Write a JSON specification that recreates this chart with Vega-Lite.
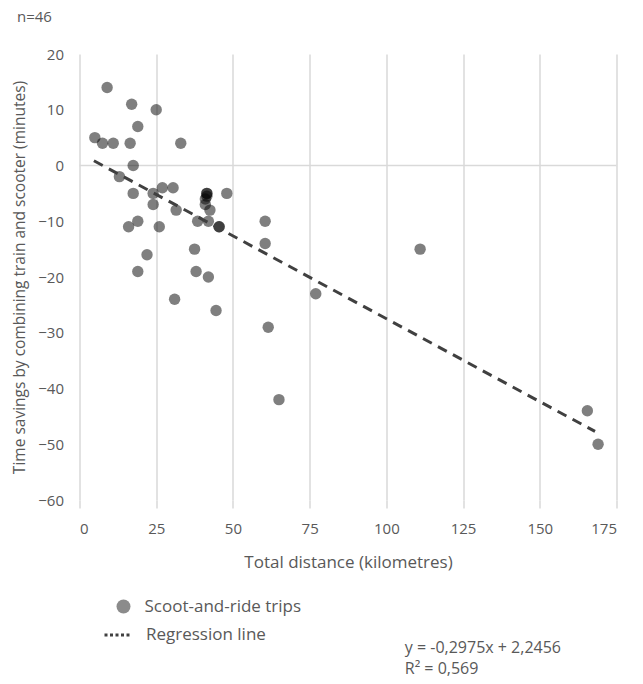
{
  "$schema": "https://vega.github.io/schema/vega-lite/v6.json",
  "width": 537,
  "height": 446,
  "autosize": {"type": "none"},
  "padding": {"left": 79.5, "top": 54, "right": 26.5, "bottom": 184},
  "background": "white",
  "config": {
    "view": {"stroke": null},
    "font": "Open Sans",
    "axis": {"labelFont": "Open Sans", "titleFont": "Open Sans", "labelColor": "#595959", "titleColor": "#595959", "labelFontSize": 15, "titleFontSize": 17, "titleFontWeight": "normal"},
    "legend": {"labelFont": "Open Sans", "labelFontSize": 17, "labelColor": "#595959", "padding": 0, "title": null}
  },
  "title": {"text": "n=46", "anchor": "start", "frame": "group", "dx": -62.5, "offset": 22, "fontSize": 15, "fontWeight": "normal", "color": "#595959", "font": "Open Sans"},
  "datasets": {
    "trips": [
      {"distance": 9, "savings": 14, "series": "Scoot-and-ride trips"},
      {"distance": 17, "savings": 11, "series": "Scoot-and-ride trips"},
      {"distance": 25, "savings": 10, "series": "Scoot-and-ride trips"},
      {"distance": 19, "savings": 7, "series": "Scoot-and-ride trips"},
      {"distance": 5, "savings": 5, "series": "Scoot-and-ride trips"},
      {"distance": 7.5, "savings": 4, "series": "Scoot-and-ride trips"},
      {"distance": 11, "savings": 4, "series": "Scoot-and-ride trips"},
      {"distance": 16.5, "savings": 4, "series": "Scoot-and-ride trips"},
      {"distance": 33, "savings": 4, "series": "Scoot-and-ride trips"},
      {"distance": 17.5, "savings": 0, "series": "Scoot-and-ride trips"},
      {"distance": 13, "savings": -2, "series": "Scoot-and-ride trips"},
      {"distance": 17.5, "savings": -5, "series": "Scoot-and-ride trips"},
      {"distance": 24, "savings": -5, "series": "Scoot-and-ride trips"},
      {"distance": 27, "savings": -4, "series": "Scoot-and-ride trips"},
      {"distance": 30.5, "savings": -4, "series": "Scoot-and-ride trips"},
      {"distance": 41.5, "savings": -5, "series": "Scoot-and-ride trips"},
      {"distance": 41.5, "savings": -5, "series": "Scoot-and-ride trips"},
      {"distance": 41.5, "savings": -5.5, "series": "Scoot-and-ride trips"},
      {"distance": 41, "savings": -6, "series": "Scoot-and-ride trips"},
      {"distance": 41, "savings": -7, "series": "Scoot-and-ride trips"},
      {"distance": 42.5, "savings": -8, "series": "Scoot-and-ride trips"},
      {"distance": 48, "savings": -5, "series": "Scoot-and-ride trips"},
      {"distance": 24, "savings": -7, "series": "Scoot-and-ride trips"},
      {"distance": 31.5, "savings": -8, "series": "Scoot-and-ride trips"},
      {"distance": 19, "savings": -10, "series": "Scoot-and-ride trips"},
      {"distance": 16, "savings": -11, "series": "Scoot-and-ride trips"},
      {"distance": 26, "savings": -11, "series": "Scoot-and-ride trips"},
      {"distance": 38.5, "savings": -10, "series": "Scoot-and-ride trips"},
      {"distance": 42, "savings": -10, "series": "Scoot-and-ride trips"},
      {"distance": 45.5, "savings": -11, "series": "Scoot-and-ride trips"},
      {"distance": 45.5, "savings": -11, "series": "Scoot-and-ride trips"},
      {"distance": 22, "savings": -16, "series": "Scoot-and-ride trips"},
      {"distance": 19, "savings": -19, "series": "Scoot-and-ride trips"},
      {"distance": 37.5, "savings": -15, "series": "Scoot-and-ride trips"},
      {"distance": 38, "savings": -19, "series": "Scoot-and-ride trips"},
      {"distance": 42, "savings": -20, "series": "Scoot-and-ride trips"},
      {"distance": 31, "savings": -24, "series": "Scoot-and-ride trips"},
      {"distance": 44.5, "savings": -26, "series": "Scoot-and-ride trips"},
      {"distance": 60.5, "savings": -10, "series": "Scoot-and-ride trips"},
      {"distance": 60.5, "savings": -14, "series": "Scoot-and-ride trips"},
      {"distance": 111, "savings": -15, "series": "Scoot-and-ride trips"},
      {"distance": 77, "savings": -23, "series": "Scoot-and-ride trips"},
      {"distance": 61.5, "savings": -29, "series": "Scoot-and-ride trips"},
      {"distance": 65, "savings": -42, "series": "Scoot-and-ride trips"},
      {"distance": 165.5, "savings": -44, "series": "Scoot-and-ride trips"},
      {"distance": 169, "savings": -50, "series": "Scoot-and-ride trips"}
    ],
    "fit": [
      {"distance": 4.7, "savings": 0.85, "series": "Regression line"},
      {"distance": 168, "savings": -47.7, "series": "Regression line"}
    ],
    "zero": [{"savings": 0}],
    "stats": [
      {"distance": 106, "savings": -86.6, "label": "y = -0,2975x + 2,2456"},
      {"distance": 106, "savings": -90.3, "label": "R² = 0,569"}
    ]
  },
  "layer": [
    {
      "data": {"name": "zero"},
      "mark": {"type": "rule", "color": "#d9d9d9", "strokeWidth": 1.5},
      "encoding": {
        "y": {"field": "savings", "type": "quantitative"}
      }
    },
    {
      "data": {"name": "trips"},
      "mark": {"type": "point", "filled": true, "size": 130, "color": "black", "opacity": 0.5},
      "encoding": {
        "x": {
          "field": "distance", "type": "quantitative",
          "scale": {"domain": [0, 175], "nice": false, "zero": false},
          "axis": {
            "title": "Total distance (kilometres)",
            "values": [0, 25, 50, 75, 100, 125, 150, 175],
            "grid": true, "gridColor": "#d9d9d9", "gridWidth": 1.5,
            "ticks": true, "tickColor": "#d9d9d9", "tickSize": 8, "tickWidth": 1.5,
            "domain": false, "labelPadding": 13, "titlePadding": 18
          }
        },
        "y": {
          "field": "savings", "type": "quantitative",
          "scale": {"domain": [-60, 20], "nice": false, "zero": false},
          "axis": {
            "title": "Time savings by combining train and scooter (minutes)",
            "titleFontSize": 15.5,
            "values": [-60, -50, -40, -30, -20, -10, 0, 10, 20],
            "grid": false, "ticks": false, "domain": false,
            "labelPadding": 16, "titlePadding": 10
          }
        },
        "shape": {
          "field": "series", "type": "nominal",
          "scale": {"domain": ["Scoot-and-ride trips"], "range": ["circle"]},
          "legend": {
            "orient": "none", "legendX": 35.5, "legendY": 544,
            "symbolSize": 195, "labelOffset": 12.5, "symbolOpacity": 0.45
          }
        }
      }
    },
    {
      "data": {"name": "fit"},
      "mark": {"type": "line", "strokeWidth": 3, "strokeDash": [10, 7]},
      "encoding": {
        "x": {"field": "distance", "type": "quantitative"},
        "y": {"field": "savings", "type": "quantitative"},
        "color": {
          "field": "series", "type": "nominal",
          "scale": {"domain": ["Regression line"], "range": ["#404040"]},
          "legend": {
            "orient": "none", "legendX": 23.5, "legendY": 566,
            "symbolType": "stroke", "symbolSize": 729, "symbolDash": [3, 2.5], "symbolStrokeWidth": 3,
            "symbolStrokeColor": "#262626", "labelOffset": 13
          }
        }
      }
    },
    {
      "data": {"name": "stats"},
      "mark": {"type": "text", "align": "left", "baseline": "middle", "clip": false, "fontSize": 16, "color": "#595959", "font": "Open Sans"},
      "encoding": {
        "x": {"field": "distance", "type": "quantitative"},
        "y": {"field": "savings", "type": "quantitative"},
        "text": {"field": "label", "type": "nominal"}
      }
    }
  ]
}
